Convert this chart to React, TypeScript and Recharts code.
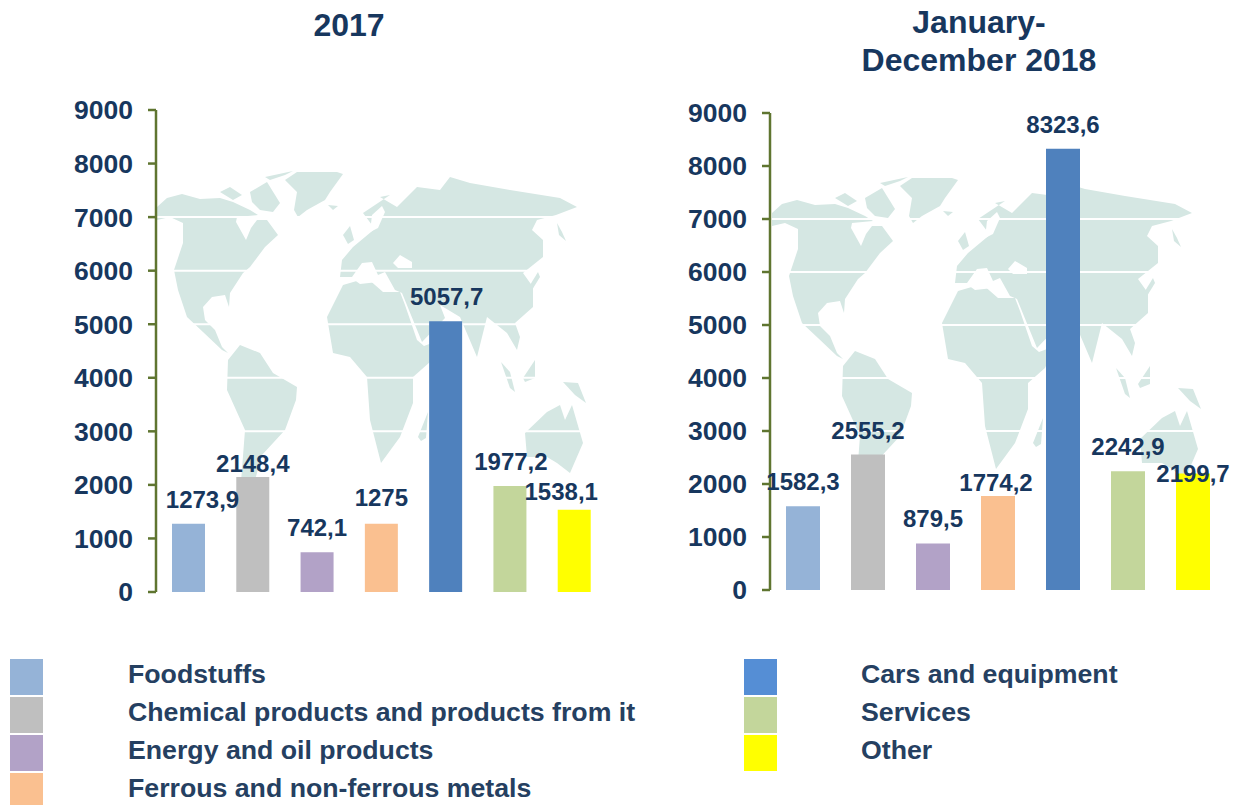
import { BarChart, Bar, XAxis, YAxis, CartesianGrid, Cell, LabelList } from 'recharts';

const categories = [
  'Foodstuffs',
  'Chemical products and products from it',
  'Energy and oil products',
  'Ferrous and non-ferrous metals',
  'Cars and equipment',
  'Services',
  'Other',
];
const values2017 = [1273.9, 2148.4, 742.1, 1275, 5057.7, 1977.2, 1538.1];
const values2018 = [1582.3, 2555.2, 879.5, 1774.2, 8323.6, 2242.9, 2199.7];
const yTicks = [0, 1000, 2000, 3000, 4000, 5000, 6000, 7000, 8000, 9000];

const barColors = ['#95B3D7', '#BFBFBF', '#B2A2C7', '#FAC090', '#4F81BD', '#C3D69B', '#FFFF00'];
const legendColors = ['#95B3D7', '#BFBFBF', '#B2A2C7', '#FAC090', '#558ED5', '#C3D69B', '#FFFF00'];

const NAVY = '#17375E';
const AXIS = '#5F7530';
const FONT = '"Liberation Sans", Arial, sans-serif';

// rough world map outline, only a backdrop for the charts
const land = [
  '157,207 167,198 182,194 200,199 220,198 233,202 250,210 258,215 237,217 236,222 246,240 251,228 257,220 267,220 278,235 265,247 250,267 243,273 230,293 229,307 225,295 212,297 203,307 205,320 215,330 222,347 228,353 222,350 203,332 187,317 178,290 174,270 183,243 183,223 170,217 157,220',
  '285,180 297,172 337,172 343,174 330,192 325,200 307,210 298,217 294,210 297,192',
  '220,192 230,187 242,195 233,200',
  '250,192 267,182 280,203 273,212 260,210 252,202',
  '265,177 293,171 285,175 270,180',
  '328,205 338,206 333,210',
  '228,360 240,345 260,353 273,373 297,387 296,400 285,430 262,455 255,480 250,495 240,495 245,430 227,390',
  '327,317 343,285 367,278 383,292 400,292 405,305 417,340 424,346 440,340 430,362 413,377 413,403 400,437 381,463 370,420 367,377 350,357 333,353',
  '342,260 340,277 352,277 362,263 372,262 378,275 385,272 395,290 402,293 422,342 445,318 440,305 460,317 477,357 487,317 507,333 517,350 520,337 515,323 533,307 533,287 523,273 543,257 543,240 532,230 537,220 556,215 577,207 560,198 510,190 470,183 450,177 440,190 417,187 397,207 380,197 390,195 363,213 372,225 377,227 353,247',
  '343,235 350,226 354,240 348,244',
  '530,285 538,272 540,277 532,290',
  '557,223 562,232 566,241 559,235',
  '418,437 428,412 426,438 421,441',
  '501,362 510,372 515,392 510,388',
  '523,378 535,360 535,378 525,382',
  '563,382 578,383 586,403 575,395',
  '525,433 547,412 560,405 565,420 572,405 583,443 570,473 557,463 547,457 527,457',
];
const inlandWater = [
  '393,263 400,255 412,262 412,268 398,268',
  '372,215 382,206 385,212 378,228 370,232',
  '353,279 372,270 378,282 360,284',
];

function WorldMap({ dx, dy }: { dx: number; dy: number }) {
  return (
    <g transform={`translate(${dx},${dy})`}>
      {land.map((pts, i) => (
        <polygon key={i} points={pts} fill="#D5E7E3" />
      ))}
      {inlandWater.map((pts, i) => (
        <polygon key={i} points={pts} fill="#ffffff" />
      ))}
    </g>
  );
}

interface ValueLabelProps {
  x?: number;
  y?: number;
  width?: number;
  index?: number;
  value?: number;
  nudges: number[][];
}

function ValueLabel({ x = 0, y = 0, width = 0, index = 0, value = 0, nudges }: ValueLabelProps) {
  const [dx, dy] = nudges[index];
  return (
    <text
      x={x + width / 2 + dx}
      y={y - 16 + dy}
      textAnchor="middle"
      fill={NAVY}
      fontFamily={FONT}
      fontSize={24}
      fontWeight={700}
    >
      {String(value).replace('.', ',')}
    </text>
  );
}

interface PanelProps {
  values: number[];
  left: number;
  width: number;
  plotLeft: number;
  plotTop: number;
  plotBottom: number;
  plotRight: number;
  barSize: number;
  nudges: number[][];
}

function Panel({ values, left, width, plotLeft, plotTop, plotBottom, plotRight, barSize, nudges }: PanelProps) {
  const height = 640;
  const data = categories.map((name, i) => ({ name, value: values[i] }));
  return (
    <div style={{ position: 'absolute', left, top: 0, width, height }}>
      <BarChart
        width={width}
        height={height}
        data={data}
        barCategoryGap={0}
        margin={{
          top: plotTop,
          bottom: height - plotBottom,
          left: plotLeft - left - 100,
          right: left + width - plotRight,
        }}
      >
        <CartesianGrid vertical={false} stroke="#ffffff" strokeWidth={2} />
        <XAxis
          dataKey="name"
          height={0}
          tick={false}
          tickLine={false}
          axisLine={{ stroke: AXIS, strokeWidth: 2.5 }}
        />
        <YAxis
          width={100}
          domain={[0, 9000]}
          ticks={yTicks}
          interval={0}
          tickSize={8}
          tickMargin={15}
          tickLine={{ stroke: AXIS, strokeWidth: 2.5 }}
          axisLine={{ stroke: AXIS, strokeWidth: 2.5 }}
          tick={{ fill: NAVY, fontSize: 26.5, fontWeight: 700, fontFamily: FONT }}
        />
        <Bar dataKey="value" barSize={barSize} isAnimationActive={false}>
          {data.map((d, i) => (
            <Cell key={d.name} fill={barColors[i]} />
          ))}
          <LabelList dataKey="value" content={(p: any) => <ValueLabel {...p} nudges={nudges} />} />
        </Bar>
      </BarChart>
    </div>
  );
}

const titleStyle = {
  position: 'absolute',
  color: NAVY,
  fontFamily: FONT,
  fontSize: 32,
  fontWeight: 700,
  textAlign: 'center',
  lineHeight: '38px',
} as const;

const legendColumns = [
  { swatchX: 10, textX: 128, items: [0, 1, 2, 3] },
  { swatchX: 744, textX: 861, items: [4, 5, 6] },
];
const legendRowTops = [659, 697, 735, 773];

export default function App() {
  return (
    <div style={{ position: 'absolute', left: 0, top: 0, width: 1239, height: 805, overflow: 'hidden', background: '#fff' }}>
      <svg width={1239} height={805} style={{ position: 'absolute', left: 0, top: 0 }}>
        <WorldMap dx={0} dy={0} />
        <WorldMap dx={615} dy={6} />
      </svg>

      <div style={{ ...titleStyle, left: 249, width: 200, top: 6 }}>2017</div>
      <div style={{ ...titleStyle, left: 779, width: 400, top: 3 }}>
        January-
        <br />
        December 2018
      </div>

      <Panel
        values={values2017}
        left={0}
        width={620}
        plotLeft={156}
        plotTop={110}
        plotBottom={592}
        plotRight={606}
        barSize={33}
        nudges={[[14, 0], [0, 11], [0, 0], [0, -2], [1, 0], [1, 0], [-13, 6]]}
      />
      <Panel
        values={values2018}
        left={620}
        width={619}
        plotLeft={770}
        plotTop={113}
        plotBottom={590}
        plotRight={1225}
        barSize={34}
        nudges={[[0, 0], [0, 0], [0, 0], [-2, 11], [0, 0], [0, 0], [0, 25]]}
      />

      {legendColumns.map((col) =>
        col.items.map((catIdx, row) => (
          <div key={catIdx}>
            <div
              style={{
                position: 'absolute',
                left: col.swatchX,
                top: legendRowTops[row],
                width: 33,
                height: 36,
                background: legendColors[catIdx],
              }}
            />
            <div
              style={{
                position: 'absolute',
                left: col.textX,
                top: legendRowTops[row],
                height: 30,
                lineHeight: '30px',
                whiteSpace: 'nowrap',
                color: '#254061',
                fontFamily: FONT,
                fontSize: 26.7,
                fontWeight: 700,
              }}
            >
              {categories[catIdx]}
            </div>
          </div>
        ))
      )}
    </div>
  );
}
